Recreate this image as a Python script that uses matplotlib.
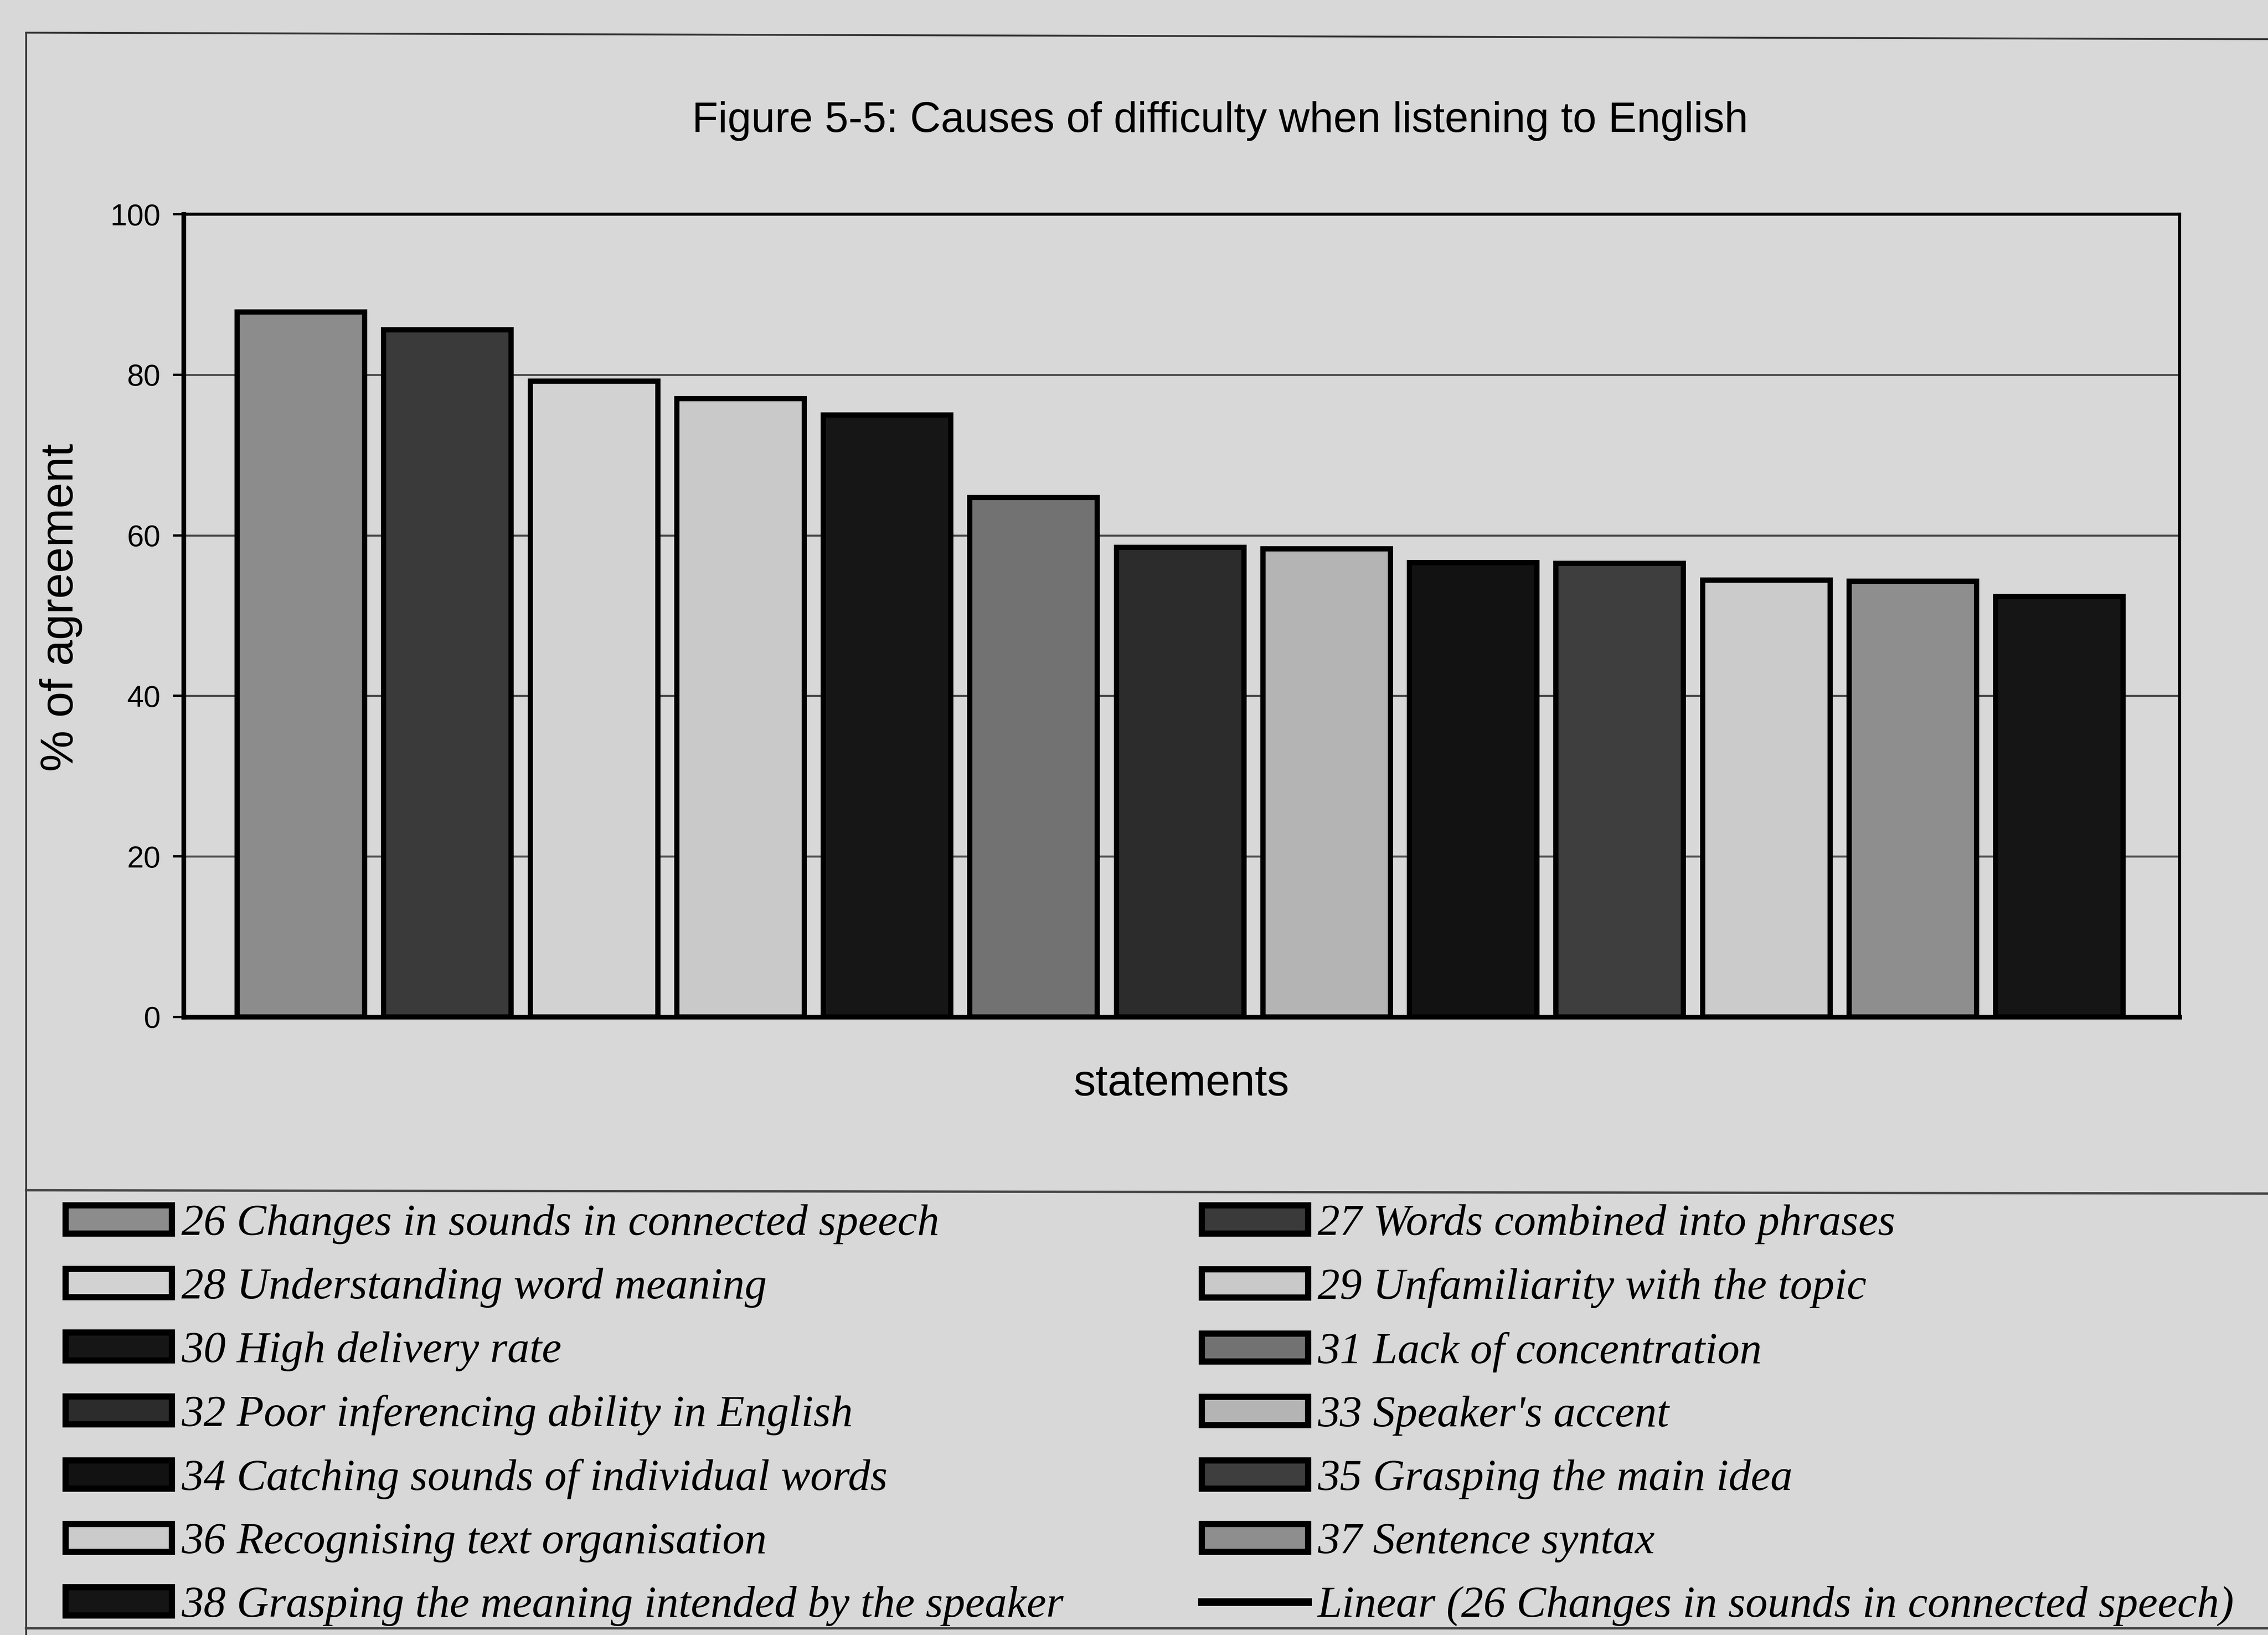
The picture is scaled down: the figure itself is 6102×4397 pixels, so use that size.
import matplotlib
matplotlib.use("Agg")
import matplotlib.pyplot as plt
from matplotlib.patches import Patch
from matplotlib.lines import Line2D

# statements (legend text) and % agreement
statements = [
    "26 Changes in sounds in connected speech",
    "27 Words combined into phrases",
    "28 Understanding word meaning",
    "29 Unfamiliarity with the topic",
    "30 High delivery rate",
    "31 Lack of concentration",
    "32 Poor inferencing ability in English",
    "33 Speaker's accent",
    "34 Catching sounds of individual words",
    "35 Grasping the main idea",
    "36 Recognising text organisation",
    "37 Sentence syntax",
    "38 Grasping the meaning intended by the speaker",
]
agreement = [87.8, 85.6, 79.2, 77.0, 75.0, 64.7, 58.5, 58.3, 56.6, 56.5, 54.4, 54.3, 52.4]
bar_colors = ["#8c8c8c", "#3a3a3a", "#d2d2d2", "#c9c9c9", "#161616", "#727272", "#2c2c2c",
              "#b4b4b4", "#121212", "#3e3e3e", "#cbcbcb", "#8e8e8e", "#151515"]
trend_label = "Linear (26 Changes in sounds in connected speech)"
yticks = [0, 20, 40, 60, 80, 100]

bg = "#d8d8d8"
sans = ["Liberation Sans", "DejaVu Sans"]
serif = ["Liberation Serif", "DejaVu Serif"]

fig = plt.figure(figsize=(20.34, 14.657), dpi=300, facecolor=bg)
ax = fig.add_axes([0.081, 0.378, 0.880, 0.491], facecolor=bg)

x = list(range(len(agreement)))
bars = ax.bar(x, agreement, width=0.87, color=bar_colors, edgecolor="black",
              linewidth=3.4, zorder=3)
# trendline only appears in the legend (one point per series)
trend, = ax.plot([], [], color="black", linewidth=5, label=trend_label)

ax.set_xlim(-0.8, 12.82)
ax.set_ylim(0, 100)
ax.set_yticks(yticks)
ax.set_xticks([])
ax.yaxis.grid(True, color="#4a4a4a", linewidth=1.3, zorder=0)
ax.tick_params(axis="y", length=7, width=1.5, direction="out", pad=8, labelsize=19.5)
for lab in ax.get_yticklabels():
    lab.set_family(sans)
for side in ["left", "bottom"]:
    ax.spines[side].set_linewidth(3)
for side in ["top", "right"]:
    ax.spines[side].set_linewidth(2)

ax.set_ylabel("% of agreement", family=sans, fontsize=30, va="center")
ax.yaxis.set_label_coords(-0.0615, 0.51)
ax.set_xlabel("statements", family=sans, fontsize=28.5, labelpad=30)
fig.text(0.538, 0.926, "Figure 5-5: Causes of difficulty when listening to English",
         ha="center", va="center", family=sans, fontsize=27.5)

# legend as two columns, filled row by row like the original
handles = [Patch(facecolor=c, edgecolor="black", linewidth=4) for c in bar_colors]
col1 = [(handles[i], statements[i]) for i in range(0, 13, 2)]
col2 = [(handles[i], statements[i]) for i in range(1, 13, 2)] + [(trend, trend_label)]
leg_kw = dict(frameon=False, loc="upper left", handlelength=2.4, handleheight=0.6,
              handletextpad=0.22, labelspacing=0.53, borderpad=0,
              prop={"family": serif, "style": "italic", "size": 28.6})
fig.legend([h for h, _ in col1], [t for _, t in col1],
           bbox_to_anchor=(0.019, 0.277), **leg_kw)
fig.legend([h for h, _ in col2], [t for _, t in col2],
           bbox_to_anchor=(0.520, 0.277), **leg_kw)

# scan frame lines
fig.add_artist(Line2D([0.0115, 1.0], [0.980, 0.976], color="#333333", linewidth=1.2))
fig.add_artist(Line2D([0.0115, 0.0115], [0.980, 0.0], color="#333333", linewidth=1.2))
fig.add_artist(Line2D([0.0115, 1.0], [0.272, 0.270], color="#444444", linewidth=1.5))
fig.add_artist(Line2D([0.0115, 1.0], [0.004, 0.004], color="#444444", linewidth=1.5))

fig.savefig("out.png", dpi=300, facecolor=bg)
